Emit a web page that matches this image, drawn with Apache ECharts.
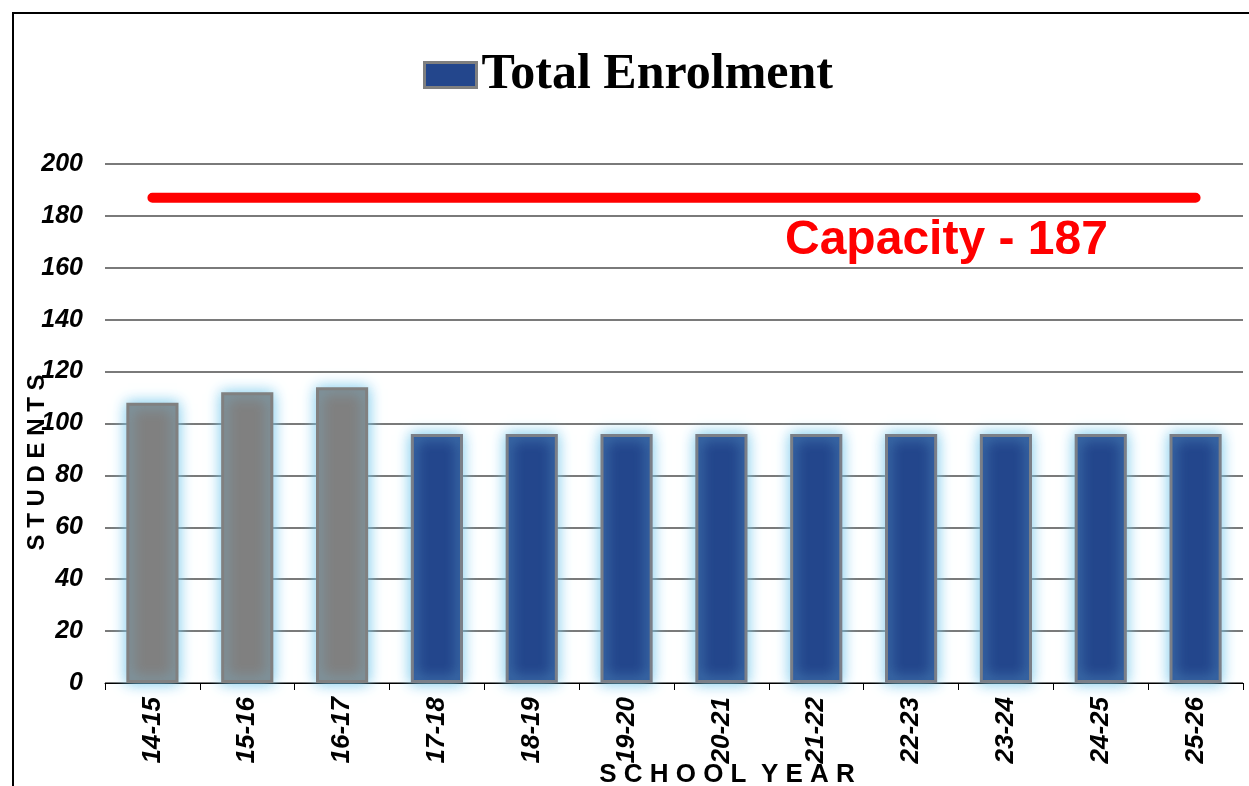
<!DOCTYPE html>
<html>
<head>
<meta charset="utf-8">
<script src="https://cdn.jsdelivr.net/npm/echarts@6/dist/echarts.min.js"></script>
<style>
html,body{margin:0;padding:0;background:#fff;overflow:hidden;width:1249px;height:786px;}
#frame{position:absolute;left:12px;top:12px;width:1300px;height:900px;border-left:2px solid #000;border-top:2px solid #000;}
#chart{position:absolute;left:0;top:0;width:1249px;height:786px;}
</style>
</head>
<body>
<div id="frame"></div>
<div id="chart"></div>
<script>
const categories = ['14-15','15-16','16-17','17-18','18-19','19-20','20-21','21-22','22-23','23-24','24-25','25-26'];
const enrolment = [108, 112, 114, 96, 96, 96, 96, 96, 96, 96, 96, 96];
const actualCount = 3; // first three years shown in grey (actual)
const capacity = 187;
const capacityValues = [187, 187, 187, 187, 187, 187, 187, 187, 187, 187, 187, 187];
const yTicks = { min: 0, max: 200, interval: 20 };

const chart = echarts.init(document.getElementById('chart'));
const barData = enrolment.map((v, i) => ({
  value: v,
  itemStyle: i < actualCount ? { color: '#808080', borderColor: '#808080' } : {}
}));

chart.setOption({
  animation: false,
  legend: {
    data: [{ name: 'Total Enrolment', icon: 'rect' }],
    top: 45,
    left: 418,
    itemWidth: 52,
    itemHeight: 25,
    itemGap: 4,
    itemStyle: { borderColor: '#7f7f7f', borderWidth: 3 },
    textStyle: { fontFamily: 'Liberation Serif', fontWeight: 'bold', fontSize: 50, color: '#000' }
  },
  grid: { left: 105, right: 6, top: 164, bottom: 103, outerBoundsMode: 'none', containLabel: false },
  xAxis: {
    type: 'category',
    data: categories,
    name: 'S C H O O L  Y E A R',
    nameLocation: 'middle',
    nameMoveOverlap: false,
    nameGap: 79,
    nameTextStyle: { fontFamily: 'Liberation Sans', fontWeight: 'bold', fontSize: 26, color: '#000', padding: [0, 0, 0, 106] },
    axisLine: { lineStyle: { color: '#000', width: 1 } },
    axisTick: { show: true, length: 7, lineStyle: { color: '#000' } },
    axisLabel: { rotate: 90, margin: 14, fontFamily: 'Liberation Sans', fontWeight: 'bold', fontStyle: 'italic', fontSize: 26, color: '#000' }
  },
  yAxis: {
    type: 'value',
    min: yTicks.min, max: yTicks.max, interval: yTicks.interval,
    name: 'S T U D E N T S',
    nameLocation: 'middle',
    nameRotate: 90,
    nameMoveOverlap: false,
    nameGap: 56,
    nameTextStyle: { fontFamily: 'Liberation Sans', fontWeight: 'bold', fontSize: 24, color: '#000', padding: [0, 78, 0, 0] },
    axisLine: { show: false },
    axisTick: { show: false },
    axisLabel: { margin: 22, fontFamily: 'Liberation Sans', fontWeight: 'bold', fontStyle: 'italic', fontSize: 25, color: '#000' },
    splitLine: { lineStyle: { color: '#7a7a7a', width: 2 } }
  },
  series: [
    {
      name: 'Total Enrolment',
      type: 'bar',
      data: barData,
      barWidth: '55%',
      itemStyle: {
        color: '#23468c',
        borderColor: '#7a7f88',
        borderWidth: 3,
        shadowBlur: 14,
        shadowColor: 'rgba(120,200,235,1)'
      }
    },
    {
      name: 'Capacity',
      type: 'line',
      data: capacityValues,
      symbol: 'none',
      lineStyle: { color: '#ff0000', width: 10, cap: 'round' },
      z: 5
    }
  ],
  graphic: [{
    type: 'text',
    left: 785,
    top: 217,
    style: { text: 'Capacity - ' + capacity, fill: '#ff0000', font: 'bold 48px "Liberation Sans"' }
  }]
});
</script>
</body>
</html>
